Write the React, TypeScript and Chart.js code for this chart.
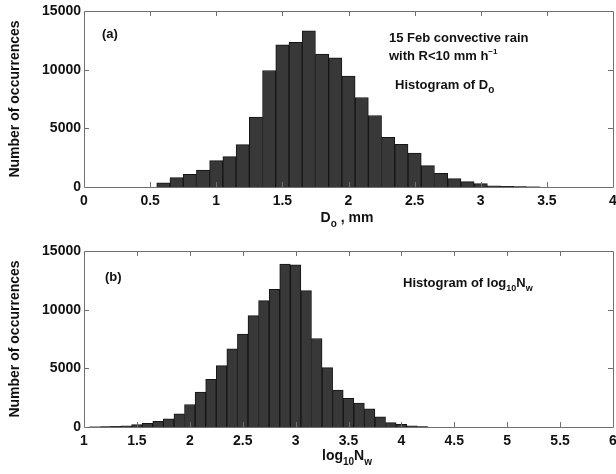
import React, { useEffect, useRef } from "react";
import { Chart, registerables } from "chart.js";

Chart.register(...registerables);

// ---- Data ----
const doCenters = [0.6, 0.7, 0.8, 0.9, 1.0, 1.1, 1.2, 1.3, 1.4, 1.5, 1.6, 1.7, 1.8, 1.9, 2.0, 2.1, 2.2, 2.3, 2.4, 2.5, 2.6, 2.7, 2.8, 2.9, 3.0, 3.1, 3.2, 3.3, 3.4];
const doCounts = [350, 800, 1080, 1450, 2250, 2590, 3610, 5950, 9930, 12120, 12320, 13320, 11330, 11010, 9450, 7630, 6090, 4240, 3640, 2900, 1820, 1170, 710, 455, 285, 100, 50, 30, 10];

const nwCenters = [1.1, 1.2, 1.3, 1.4, 1.5, 1.6, 1.7, 1.8, 1.9, 2.0, 2.1, 2.2, 2.3, 2.4, 2.5, 2.6, 2.7, 2.8, 2.9, 3.0, 3.1, 3.2, 3.3, 3.4, 3.5, 3.6, 3.7, 3.8, 3.9, 4.0, 4.1, 4.2];
const nwCounts = [10, 30, 60, 110, 200, 314, 486, 686, 1114, 1914, 2971, 4057, 5229, 6657, 7914, 9486, 10771, 11743, 13886, 13829, 11629, 7543, 5057, 3143, 2450, 2029, 1543, 857, 371, 229, 100, 40];

const yTicks = [0, 5000, 10000, 15000];
const topXRange = [0, 4];
const bottomXRange = [1, 6];

const FONT = "'Liberation Sans', Arial, Helvetica, sans-serif";

type Seg = { t: string; size: number; dy?: number };

function drawRich(ctx: CanvasRenderingContext2D, x: number, y: number, segs: Seg[], align: "left" | "center" = "left") {
  let total = 0;
  for (const s of segs) {
    ctx.font = `bold ${s.size}px ${FONT}`;
    total += ctx.measureText(s.t).width;
  }
  let cx = align === "center" ? x - total / 2 : x;
  ctx.textBaseline = "alphabetic";
  ctx.textAlign = "left";
  for (const s of segs) {
    ctx.font = `bold ${s.size}px ${FONT}`;
    ctx.fillText(s.t, cx, y + (s.dy || 0));
    cx += ctx.measureText(s.t).width;
  }
}

type Ann = { x: number; y: number; segs: Seg[]; align?: "left" | "center" };

function makeFramePlugin(annotations: Ann[], xTitle: Ann) {
  return {
    id: "frame",
    afterDraw(chart: any) {
      const ctx: CanvasRenderingContext2D = chart.ctx;
      const a = chart.chartArea;
      const xs = chart.scales.x;
      const ys = chart.scales.y;
      ctx.save();
      ctx.strokeStyle = "#707070";
      ctx.lineWidth = 1;
      ctx.beginPath();
      ctx.rect(Math.round(a.left) + 0.5, Math.round(a.top) + 0.5, Math.round(a.right - a.left), Math.round(a.bottom - a.top));
      ctx.stroke();
      const tl = 5;
      ctx.beginPath();
      for (const t of xs.ticks) {
        const px = Math.round(xs.getPixelForValue(t.value)) + 0.5;
        if (px <= a.left + 1 || px >= a.right - 1) continue;
        ctx.moveTo(px, a.bottom);
        ctx.lineTo(px, a.bottom - tl);
        ctx.moveTo(px, a.top);
        ctx.lineTo(px, a.top + tl);
      }
      for (const t of ys.ticks) {
        const py = Math.round(ys.getPixelForValue(t.value)) + 0.5;
        if (py <= a.top + 1 || py >= a.bottom - 1) continue;
        ctx.moveTo(a.left, py);
        ctx.lineTo(a.left + tl, py);
        ctx.moveTo(a.right, py);
        ctx.lineTo(a.right - tl, py);
      }
      ctx.stroke();

      ctx.fillStyle = "#111";
      for (const an of annotations) drawRich(ctx, an.x, an.y, an.segs, an.align || "left");
      drawRich(ctx, xTitle.x, xTitle.y, xTitle.segs, "center");

      // y title
      ctx.save();
      ctx.translate(19, (a.top + a.bottom) / 2);
      ctx.rotate(-Math.PI / 2);
      ctx.font = `bold 14px ${FONT}`;
      ctx.textAlign = "center";
      ctx.textBaseline = "alphabetic";
      ctx.fillText("Number of occurrences", 0, 0);
      ctx.restore();
      ctx.restore();
    },
  };
}

function makeConfig(centers: number[], counts: number[], xRange: number[], padTop: number, xAxisH: number, plugin: any) {
  return {
    type: "bar" as const,
    data: {
      datasets: [
        {
          data: centers.map((c, i) => ({ x: c, y: counts[i] })),
          backgroundColor: "#383838",
          borderColor: "#151515",
          borderWidth: 1,
          barPercentage: 1,
          categoryPercentage: 1,
        },
      ],
    },
    options: {
      responsive: false,
      animation: false,
      layout: { padding: { top: padTop, right: 3, left: 0, bottom: 0 } },
      plugins: { legend: { display: false }, tooltip: { enabled: false } },
      scales: {
        x: {
          type: "linear",
          min: xRange[0],
          max: xRange[1],
          offset: false,
          grid: { display: false, drawTicks: false, offset: false },
          border: { display: false },
          ticks: {
            stepSize: 0.5,
            padding: 6,
            color: "#111",
            font: { family: FONT, size: 14, weight: "bold" },
            maxRotation: 0,
            autoSkip: false,
            callback: (v: any) => String(v),
          },
          afterFit(scale: any) {
            scale.height = xAxisH;
            scale.paddingLeft = 0;
            scale.paddingRight = 0;
          },
        },
        y: {
          min: yTicks[0],
          max: yTicks[yTicks.length - 1],
          grid: { display: false, drawTicks: false },
          border: { display: false },
          ticks: {
            stepSize: yTicks[1] - yTicks[0],
            padding: 3,
            color: "#111",
            font: { family: FONT, size: 14, weight: "bold" },
            callback: (v: any) => String(v),
          },
          afterFit(scale: any) {
            scale.width = 84;
            scale.paddingTop = 0;
            scale.paddingBottom = 0;
          },
        },
      },
    },
    plugins: [plugin],
  };
}

export default function App() {
  const topRef = useRef<HTMLCanvasElement>(null);
  const botRef = useRef<HTMLCanvasElement>(null);

  useEffect(() => {
    const topPlugin = makeFramePlugin(
      [
        { x: 102, y: 38, segs: [{ t: "(a)", size: 13 }] },
        { x: 389, y: 42, segs: [{ t: "15 Feb convective rain", size: 13 }] },
        { x: 389, y: 60, segs: [{ t: "with R<10 mm h", size: 13 }, { t: "\u22121", size: 8, dy: -6 }] },
        { x: 395, y: 89, segs: [{ t: "Histogram of D", size: 13 }, { t: "o", size: 10, dy: 4 }] },
      ],
      { x: 347, y: 222, segs: [{ t: "D", size: 14 }, { t: "o", size: 10, dy: 5 }, { t: " , mm", size: 14 }] }
    );
    const botPlugin = makeFramePlugin(
      [
        { x: 105, y: 44, segs: [{ t: "(b)", size: 13 }] },
        { x: 403, y: 50, segs: [{ t: "Histogram of log", size: 13 }, { t: "10", size: 9, dy: 4 }, { t: "N", size: 13 }, { t: "w", size: 9, dy: 4 }] },
      ],
      { x: 347, y: 223, segs: [{ t: "log", size: 14 }, { t: "10", size: 10, dy: 5 }, { t: "N", size: 14 }, { t: "w", size: 10, dy: 5 }] }
    );
    const c1 = new Chart(topRef.current as HTMLCanvasElement, makeConfig(doCenters, doCounts, topXRange, 11, 50, topPlugin) as any);
    const c2 = new Chart(botRef.current as HTMLCanvasElement, makeConfig(nwCenters, nwCounts, bottomXRange, 14, 47, botPlugin) as any);
    return () => {
      c1.destroy();
      c2.destroy();
    };
  }, []);

  return (
    <div style={{ position: "fixed", left: 0, top: 0, width: 616, height: 474, background: "#fff" }}>
      <canvas ref={topRef} width={616} height={237} style={{ display: "block", width: 616, height: 237 }} />
      <canvas ref={botRef} width={616} height={237} style={{ display: "block", width: 616, height: 237 }} />
    </div>
  );
}
